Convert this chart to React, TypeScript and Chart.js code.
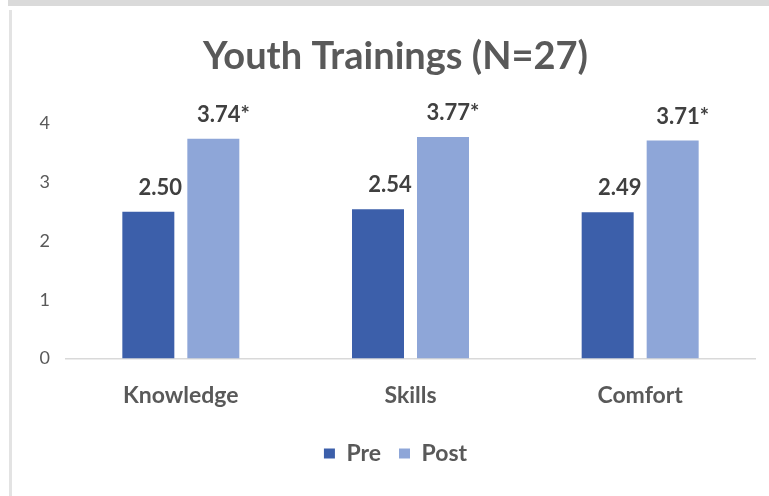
import React, { useEffect, useRef } from "react";
import { Chart, registerables } from "chart.js";

Chart.register(...registerables);

const chartTitle = "Youth Trainings (N=27)";
const categories = ["Knowledge", "Skills", "Comfort"];
const seriesNames = ["Pre", "Post"];
const preValues = [2.5, 2.54, 2.49];
const postValues = [3.74, 3.77, 3.71];
const postSignificant = [true, true, true];
const yTicks = [0, 1, 2, 3, 4];

const FONT = "Lato, 'Open Sans', sans-serif";

const labelPlugin = {
  id: "barValueLabels",
  afterDatasetsDraw(chart: any) {
    const ctx = chart.ctx;
    ctx.save();
    ctx.font = `bold 22px ${FONT}`;
    ctx.fillStyle = "#404040";
    ctx.textAlign = "center";
    ctx.textBaseline = "alphabetic";
    chart.data.datasets.forEach((ds: any, di: number) => {
      const meta = chart.getDatasetMeta(di);
      meta.data.forEach((bar: any, i: number) => {
        const v = ds.data[i] as number;
        let txt = v.toFixed(2);
        if (di === 1 && postSignificant[i]) txt += "*";
        const dx = di === 0 ? 12 : 10;
        ctx.fillText(txt, bar.x + dx, bar.y - 17);
      });
    });
    ctx.restore();
  },
};

export default function App() {
  const ref = useRef<HTMLCanvasElement | null>(null);
  useEffect(() => {
    if (!ref.current) return;
    const chart = new Chart(ref.current, {
      type: "bar",
      data: {
        labels: categories,
        datasets: [
          {
            label: seriesNames[0],
            data: preValues,
            backgroundColor: "#3C5FAA",
            categoryPercentage: 0.566,
            barPercentage: 0.8,
          },
          {
            label: seriesNames[1],
            data: postValues,
            backgroundColor: "#8EA6D8",
            categoryPercentage: 0.566,
            barPercentage: 0.8,
          },
        ],
      },
      options: {
        animation: false,
        responsive: false,
        maintainAspectRatio: false,
        layout: { padding: { left: 22, right: 14, top: 0, bottom: 19 } },
        plugins: {
          title: {
            display: true,
            text: chartTitle,
            color: "#595959",
            font: { family: FONT, size: 38, weight: "bold" },
            padding: { top: 26, bottom: 44 },
          },
          legend: {
            display: true,
            position: "bottom",
            labels: {
              color: "#595959",
              font: { family: FONT, size: 23, weight: "bold" },
              boxWidth: 11,
              boxHeight: 10,
              padding: 18,
            },
          },
          tooltip: { enabled: false },
        },
        scales: {
          x: {
            grid: { display: false },
            border: { display: true, color: "#D9D9D9", width: 1.5 },
            ticks: {
              color: "#595959",
              font: { family: FONT, size: 23, weight: "bold" },
              padding: 15,
            },
          },
          y: {
            min: 0,
            max: 4,
            afterBuildTicks: (axis: any) => {
              axis.ticks = yTicks.map((v) => ({ value: v }));
            },
            afterFit: (axis: any) => {
              axis.width = 30;
            },
            grid: { display: false },
            border: { display: false },
            ticks: {
              color: "#595959",
              font: { family: FONT, size: 18 },
              padding: 8,
            },
          },
        },
      },
      plugins: [labelPlugin],
    });
    return () => chart.destroy();
  }, []);

  return (
    <div style={{ position: "fixed", left: 0, top: 0, width: 769, height: 496, background: "#fff", overflow: "hidden" }}>
      <div style={{ position: "absolute", left: 8, top: 0, width: 761, height: 6, background: "#DADADA" }} />
      <div style={{ position: "absolute", left: 9, top: 10, width: 3, height: 486, background: "#E3E3E3" }} />
      <canvas ref={ref} width={755} height={486} style={{ position: "absolute", left: 14, top: 8, width: 755, height: 486 }} />
    </div>
  );
}
